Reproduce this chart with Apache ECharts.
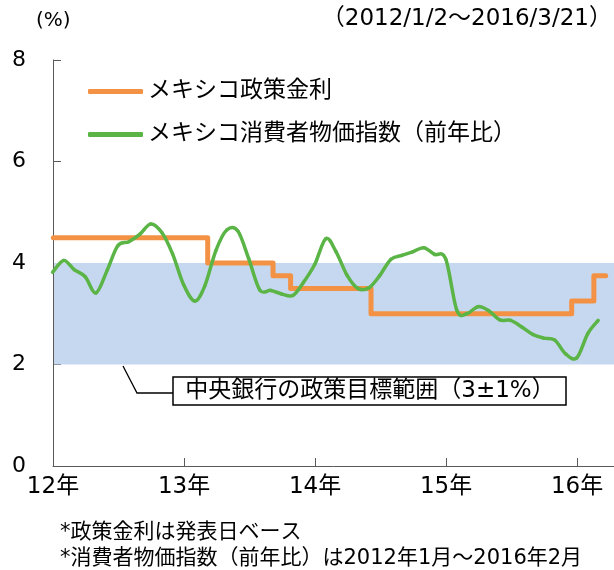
<!DOCTYPE html>
<html>
<head>
<meta charset="utf-8">
<script src="https://cdn.jsdelivr.net/npm/echarts@6/dist/echarts.min.js"></script>
<style>
  html, body { margin: 0; padding: 0; background: #fff; }
  #main { width: 614px; height: 570px; }
</style>
</head>
<body>
<div id="main"></div>
<script>
// 政策金利（発表日ベース）
var rateDates = ['2012-01-02', '2013-03-08', '2013-09-06', '2013-10-25', '2014-06-06', '2015-12-17', '2016-02-17', '2016-03-21'];
var rateValues = [4.5, 4.0, 3.75, 3.5, 3.0, 3.25, 3.75, 3.75];

// 消費者物価指数（前年比）、月末にプロット
var cpiMonths = [
    '2011-12',
    '2012-01', '2012-02', '2012-03', '2012-04', '2012-05', '2012-06', '2012-07', '2012-08', '2012-09', '2012-10', '2012-11', '2012-12',
    '2013-01', '2013-02', '2013-03', '2013-04', '2013-05', '2013-06', '2013-07', '2013-08', '2013-09', '2013-10', '2013-11', '2013-12',
    '2014-01', '2014-02', '2014-03', '2014-04', '2014-05', '2014-06', '2014-07', '2014-08', '2014-09', '2014-10', '2014-11', '2014-12',
    '2015-01', '2015-02', '2015-03', '2015-04', '2015-05', '2015-06', '2015-07', '2015-08', '2015-09', '2015-10', '2015-11', '2015-12',
    '2016-01', '2016-02'
];
var cpiValues = [
    3.82,
    4.05, 3.87, 3.73, 3.41, 3.85, 4.34, 4.42, 4.57, 4.77, 4.60, 4.18, 3.57,
    3.25, 3.55, 4.25, 4.65, 4.63, 4.09, 3.47, 3.46, 3.39, 3.36, 3.62, 3.97,
    4.48, 4.23, 3.76, 3.50, 3.51, 3.75, 4.07, 4.15, 4.22, 4.30, 4.17, 4.08,
    3.07, 3.00, 3.14, 3.06, 2.88, 2.87, 2.74, 2.59, 2.52, 2.48, 2.21, 2.13,
    2.61, 2.87
];

// 目標範囲
var targetBand = [2, 4];
var yTicks = [0, 2, 4, 6, 8];
var xYears = [2012, 2013, 2014, 2015, 2016];

var FONT = '"DejaVu Sans", "Noto Sans CJK JP", sans-serif';
var ORANGE = '#F39244';
var GREEN = '#5BB446';

function yearFrac(y, m, d) {
    var start = Date.UTC(y, 0, 1);
    var end = Date.UTC(y + 1, 0, 1);
    return y + (Date.UTC(y, m - 1, d) - start) / (end - start);
}
function dayToX(s) {
    var p = s.split('-');
    return yearFrac(+p[0], +p[1], +p[2]);
}
function monthEndToX(s) {
    var p = s.split('-');
    var y = +p[0], m = +p[1];
    var last = new Date(Date.UTC(y, m, 0)).getUTCDate();
    return yearFrac(y, m, last);
}

var rateData = rateDates.map(function (d, i) { return [dayToX(d), rateValues[i]]; });
var cpiData = cpiMonths.map(function (d, i) { return [monthEndToX(d), cpiValues[i]]; });

var xMin = xYears[0];
var xMax = 2016.282;

// Excel風のスムージング（区間ごとのベジェ曲線）
function renderSmooth(params, api) {
    var i = params.dataIndex;
    var n = cpiData.length;
    if (i >= n - 1) return;
    function pt(k) {
        k = Math.max(0, Math.min(n - 1, k));
        return api.coord([api.value(0, k), api.value(1, k)]);
    }
    var p0 = pt(i - 1), p1 = pt(i), p2 = pt(i + 1), p3 = pt(i + 2);
    return {
        type: 'bezierCurve',
        shape: {
            x1: p1[0], y1: p1[1],
            x2: p2[0], y2: p2[1],
            cpx1: p1[0] + (p2[0] - p0[0]) / 6,
            cpy1: p1[1] + (p2[1] - p0[1]) / 6,
            cpx2: p2[0] - (p3[0] - p1[0]) / 6,
            cpy2: p2[1] - (p3[1] - p1[1]) / 6
        },
        style: { stroke: GREEN, lineWidth: 3.5, fill: null, lineCap: 'round' }
    };
}

var chart = echarts.init(document.getElementById('main'));
var option = {
    animation: false,
    textStyle: { fontFamily: FONT },
    grid: { left: 53, right: 0, top: 60, bottom: 104 },
    legend: {
        orient: 'vertical',
        left: 83,
        top: 75,
        itemWidth: 55,
        itemHeight: 5,
        itemGap: 20,
        icon: 'roundRect',
        textStyle: { fontFamily: FONT, fontSize: 23, color: '#000' },
        data: ['メキシコ政策金利', 'メキシコ消費者物価指数（前年比）']
    },
    xAxis: {
        type: 'value',
        min: xMin,
        max: xMax,
        interval: 1,
        splitLine: { show: false },
        axisLine: { lineStyle: { color: '#595959', width: 1 } },
        axisTick: {
            inside: true, length: 8,
            lineStyle: { color: '#595959' },
            customValues: xYears.slice(1)
        },
        axisLabel: {
            fontFamily: FONT, fontSize: 23, color: '#000', margin: 10,
            customValues: xYears,
            formatter: function (v) { return (v % 100) + '年'; }
        }
    },
    yAxis: {
        type: 'value',
        min: 0,
        max: 8,
        interval: 2,
        splitLine: { show: false },
        axisLine: { show: true, lineStyle: { color: '#595959', width: 1 } },
        axisTick: { show: true, inside: true, length: 8, lineStyle: { color: '#595959' }, customValues: yTicks.slice(1) },
        axisLabel: { fontFamily: FONT, fontSize: 22, color: '#000', margin: 27, customValues: yTicks }
    },
    series: [
        {
            name: 'band',
            type: 'line',
            data: [],
            z: 1,
            silent: true,
            markArea: {
                silent: true,
                itemStyle: { color: '#C6D8EF' },
                data: [[{ xAxis: 2012.008, yAxis: targetBand[0] }, { xAxis: xMax, yAxis: targetBand[1] }]]
            }
        },
        {
            name: 'メキシコ政策金利',
            type: 'line',
            step: 'end',
            data: rateData,
            showSymbol: false,
            symbol: 'none',
            z: 3,
            lineStyle: { color: ORANGE, width: 5, cap: 'round', join: 'round' },
            itemStyle: { color: ORANGE }
        },
        {
            name: 'メキシコ消費者物価指数（前年比）',
            type: 'custom',
            data: cpiData,
            encode: { x: 0, y: 1 },
            renderItem: renderSmooth,
            z: 4,
            itemStyle: { color: GREEN }
        }
    ],
    graphic: [
        { type: 'text', left: 36, top: 11, style: { text: '(%)', fontFamily: FONT, fontSize: 20, fill: '#000' } },
        { type: 'text', right: 2, top: 8, style: { text: '（2012/1/2～2016/3/21）', fontFamily: FONT, fontSize: 23, fill: '#000' } },
        {
            type: 'polyline', z: 10,
            shape: { points: [[123, 366], [137, 393], [173, 393]] },
            style: { stroke: '#000', lineWidth: 1.3, fill: null }
        },
        {
            type: 'rect', z: 10,
            shape: { x: 173, y: 377, width: 393, height: 28 },
            style: { stroke: '#000', lineWidth: 1.5, fill: '#fff' }
        },
        {
            type: 'text', z: 11, x: 370, y: 391,
            style: { text: '中央銀行の政策目標範囲（3±1%）', fontFamily: FONT, fontSize: 23, fill: '#000', align: 'center', verticalAlign: 'middle' }
        },
        { type: 'text', left: 60, top: 522, style: { text: '*政策金利は発表日ベース', fontFamily: FONT, fontSize: 21, fill: '#000' } },
        { type: 'text', left: 60, top: 548, style: { text: '*消費者物価指数（前年比）は2012年1月～2016年2月', fontFamily: FONT, fontSize: 21, fill: '#000' } }
    ]
};
chart.setOption(option);
</script>
</body>
</html>
